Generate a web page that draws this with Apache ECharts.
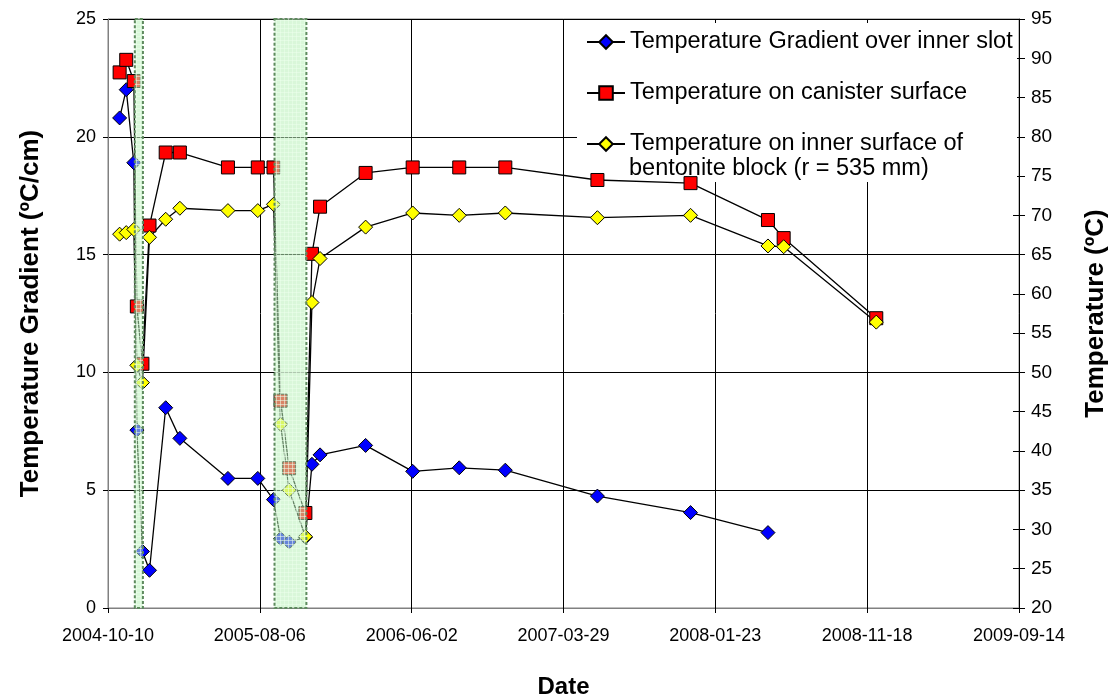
<!DOCTYPE html>
<html>
<head>
<meta charset="utf-8">
<script src="https://cdn.jsdelivr.net/npm/echarts@6/dist/echarts.min.js"></script>
<style>
  html, body { margin: 0; padding: 0; background: #fff; }
  #chart { width: 1112px; height: 697px; }
</style>
</head>
<body>
<div id="chart"></div>
<script>
// measurement dates (shared by all three series)
const dates = [
  '2004-11-02', '2004-11-15', '2004-11-30', '2004-12-06', '2004-12-17', '2004-12-31',
  '2005-02-01', '2005-03-01', '2005-06-04', '2005-08-02', '2005-09-02', '2005-09-16',
  '2005-10-03', '2005-11-04', '2005-11-17', '2005-12-03', '2006-03-03', '2006-06-04',
  '2006-09-04', '2006-12-04', '2007-06-04', '2007-12-05', '2008-05-06', '2008-06-06',
  '2008-12-06'
];
// ºC/cm, left axis (no reading on the last two dates)
const gradient = [
  20.8, 22.0, 18.9, 7.55, 2.4, 1.6,
  8.5, 7.2, 5.5, 5.5, 4.6, 2.95,
  2.8, 3.0, 6.1, 6.5, 6.9, 5.8,
  5.95, 5.85, 4.75, 4.05, 3.2, null,
  null
];
// ºC, right axis
const canister = [
  88.2, 89.8, 87.1, 58.4, 51.1, 68.7,
  78.0, 78.0, 76.1, 76.1, 76.1, 46.4,
  37.8, 32.1, 65.1, 71.1, 75.4, 76.1,
  76.1, 76.1, 74.5, 74.1, 69.4, 67.1,
  56.9
];
const bentonite = [
  67.6, 67.8, 68.2, 50.9, 48.7, 67.2,
  69.5, 70.9, 70.6, 70.6, 71.4, 43.4,
  35.0, 29.1, 58.9, 64.5, 68.5, 70.3,
  70.0, 70.3, 69.7, 70.0, 66.1, 66.0,
  56.4
];
const xTickLabels = ['2004-10-10', '2005-08-06', '2006-06-02', '2007-03-29', '2008-01-23', '2008-11-18', '2009-09-14'];
// shaded periods
const bands = [['2004-12-02', '2004-12-18'], ['2005-09-04', '2005-11-06']];

const seriesNames = [
  'Temperature Gradient over inner slot',
  'Temperature on canister surface',
  'Temperature on inner surface of\nbentonite block (r = 535 mm)'
];

const DAY = 86400000;
const t0 = Date.parse(xTickLabels[0]);
const toDay = d => (Date.parse(d) - t0) / DAY;
const pair = vals => dates.map((d, i) => [toDay(d), vals[i]]);

// light green hatch used for the shaded bands
const pat = document.createElement('canvas');
pat.width = 4; pat.height = 4;
const pc = pat.getContext('2d');
pc.fillStyle = 'rgba(185,240,185,0.55)';
pc.fillRect(0, 0, 4, 4);
pc.fillStyle = 'rgba(235,255,235,0.55)';
pc.fillRect(0, 0, 4, 1);
pc.fillRect(0, 0, 1, 4);

const FONT = 'Liberation Sans, Arial, sans-serif';
const LEGEND_FS = 23.5;

const chart = echarts.init(document.getElementById('chart'));

function lineSeries(name, vals, symbol, color, yIdx) {
  return {
    name: name,
    type: 'line',
    yAxisIndex: yIdx,
    data: pair(vals),
    symbol: symbol,
    symbolSize: symbol === 'rect' ? 13 : 14,
    lineStyle: { color: '#000', width: 1.3 },
    itemStyle: { color: color, borderColor: '#000', borderWidth: 1 },
    emphasis: { disabled: true },
    z: 3
  };
}

const titleStyle = { fontFamily: FONT, fontSize: 26, fontWeight: 'bold', color: '#000' };

const options = {
  animation: false,
  textStyle: { fontFamily: FONT },
  grid: {
    left: 108, right: 93, top: 19, bottom: 89,
    outerBoundsMode: 'none',
    show: true, borderColor: '#808080', borderWidth: 1
  },
  // white box behind the legend, plus the wrapped second line of the 3rd entry
  graphic: [
    {
      type: 'rect', z: 1, silent: true,
      shape: { x: 577, y: 23, width: 440, height: 159 },
      style: { fill: '#fff' }
    },
    {
      type: 'text', z: 5, silent: true,
      x: 629, y: 169,
      style: {
        text: 'bentonite block (r = 535 mm)',
        fontFamily: FONT, fontSize: LEGEND_FS, fill: '#000',
        verticalAlign: 'middle'
      }
    }
  ],
  legend: {
    orient: 'vertical',
    left: 586, top: 29,
    padding: 0,
    itemWidth: 38, itemHeight: 17,
    itemGap: 25,
    textStyle: { fontFamily: FONT, fontSize: LEGEND_FS, color: '#000', lineHeight: 26 },
    formatter: name => name.split('\n')[0],
    data: seriesNames
  },
  xAxis: {
    type: 'value',
    min: 0, max: 1800, interval: 300,
    name: 'Date',
    nameLocation: 'middle',
    nameGap: 67,
    nameTextStyle: Object.assign({}, titleStyle, { fontSize: 24 }),
    axisLine: { show: true, lineStyle: { color: '#808080' } },
    axisTick: { show: true, length: 5, lineStyle: { color: '#000' } },
    axisLabel: {
      margin: 19, fontSize: 18, color: '#000', fontFamily: FONT,
      formatter: v => xTickLabels[Math.round(v / 300)] || ''
    },
    splitLine: { show: true, lineStyle: { color: '#000', width: 1 } }
  },
  yAxis: [
    {
      type: 'value',
      min: 0, max: 25, interval: 5,
      name: 'Temperature Gradient (ºC/cm)',
      nameLocation: 'middle',
      nameGap: 64,
      nameTextStyle: titleStyle,
      axisLine: { show: true, lineStyle: { color: '#808080' } },
      axisTick: { show: true, length: 5, lineStyle: { color: '#000' } },
      axisLabel: { margin: 12, fontSize: 18, color: '#000', fontFamily: FONT },
      splitLine: { show: true, lineStyle: { color: '#000', width: 1 } }
    },
    {
      type: 'value',
      min: 20, max: 95, interval: 5,
      name: 'Temperature (ºC)',
      nameLocation: 'middle',
      nameGap: 64,
      nameTextStyle: titleStyle,
      axisLine: { show: true, lineStyle: { color: '#000' } },
      axisTick: { show: true, length: 6, lineStyle: { color: '#000' } },
      axisLabel: { margin: 12, fontSize: 19, color: '#000', fontFamily: FONT },
      splitLine: { show: false }
    },
    {
      // inner half of the crossing ticks on the right axis
      type: 'value',
      position: 'right',
      min: 20, max: 95, interval: 5,
      axisLine: { show: false },
      axisTick: { show: true, inside: true, length: 6, lineStyle: { color: '#000' } },
      axisLabel: { show: false },
      splitLine: { show: false }
    }
  ],
  series: [
    lineSeries(seriesNames[0], gradient, 'diamond', '#0000ff', 0),
    lineSeries(seriesNames[1], canister, 'rect', '#ff0000', 1),
    lineSeries(seriesNames[2], bentonite, 'diamond', '#ffff00', 1),
    {
      type: 'custom',
      name: 'bands',
      silent: true,
      z: 10,
      yAxisIndex: 0,
      data: bands.map(b => [toDay(b[0]), toDay(b[1]), 0]),
      encode: { x: [0, 1], y: 2 },
      renderItem: (params, api) => {
        const a = api.coord([api.value(0), 25]);
        const b = api.coord([api.value(1), 0]);
        return {
          type: 'rect',
          shape: { x: a[0], y: a[1], width: b[0] - a[0], height: b[1] - a[1] },
          style: {
            fill: { image: pat, repeat: 'repeat' },
            stroke: '#5e8a5e',
            lineWidth: 2,
            lineDash: [3, 2]
          }
        };
      }
    }
  ]
};

chart.setOption(options);
</script>
</body>
</html>
